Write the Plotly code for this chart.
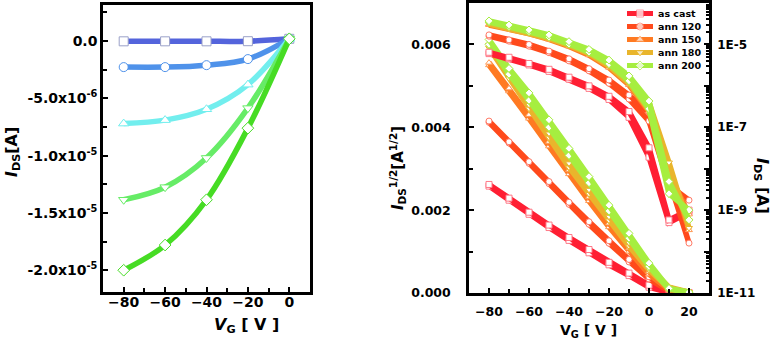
import plotly.graph_objects as go

# ---- left panel: output-type curves ----
VG_OUT = [-80, -60, -40, -20, 0]
I_SQUARE = [-2e-8, -2e-8, -2e-8, -1e-8, 2e-7]
I_CIRCLE = [-2.27e-6, -2.27e-6, -2.10e-6, -1.57e-6, 2e-7]
I_TRI_UP = [-7.20e-6, -6.90e-6, -5.95e-6, -3.80e-6, 2e-7]
I_TRI_DOWN = [-1.385e-5, -1.275e-5, -1.02e-5, -5.85e-6, 2e-7]
I_DIAMOND = [-2.0e-5, -1.78e-5, -1.385e-5, -7.6e-6, 2e-7]
Y_TICKS_LEFT = [0, -5e-6, -1e-5, -1.5e-5, -2e-5]
Y_TEXT_LEFT = ["0.0", "-5.0x10<sup>-6</sup>", "-1.0x10<sup>-5</sup>",
               "-1.5x10<sup>-5</sup>", "-2.0x10<sup>-5</sup>"]

# ---- right panel: transfer curves (two sweep branches each) ----
VG = [-80, -70, -60, -50, -40, -30, -20, -10, 0, 10, 20]
NAMES = ["as cast", "ann 120", "ann 150", "ann 180", "ann 200"]

SQRT_A = [
    [0.00262, 0.00229, 0.00195, 0.00164, 0.00134, 0.00105, 0.00074, 0.00048, 0.00019, 0.00003, 0.00001],
    [0.00415, 0.00365, 0.00317, 0.00269, 0.00219, 0.00172, 0.00126, 0.00081, 0.00039, 0.00007, 0.00002],
    [0.00556, 0.00494, 0.00430, 0.00365, 0.00297, 0.00232, 0.00168, 0.00108, 0.00051, 0.00011, 0.00002],
    [0.00599, 0.00526, 0.00454, 0.00385, 0.00313, 0.00249, 0.00184, 0.00121, 0.00063, 0.00014, 0.00002],
    [0.00612, 0.00542, 0.00483, 0.00418, 0.00349, 0.00281, 0.00212, 0.00144, 0.00072, 0.00011, 0.00002],
]
SQRT_B = [
    [0.00258, 0.00224, 0.00190, 0.00158, 0.00127, 0.00097, 0.00068, 0.00042, 0.00014, 0.00001, 0.00001],
    [0.00412, 0.00362, 0.00313, 0.00264, 0.00214, 0.00166, 0.00120, 0.00075, 0.00034, 0.00005, 0.00002],
    [0.00550, 0.00487, 0.00421, 0.00354, 0.00287, 0.00222, 0.00159, 0.00100, 0.00045, 0.00008, 0.00002],
    [0.00592, 0.00518, 0.00445, 0.00375, 0.00303, 0.00239, 0.00175, 0.00113, 0.00056, 0.00011, 0.00002],
    [0.00600, 0.00528, 0.00465, 0.00400, 0.00332, 0.00266, 0.00198, 0.00132, 0.00064, 0.00009, 0.00002],
]
ID_A = [
    [6.46e-6, 4.90e-6, 3.47e-6, 2.51e-6, 1.62e-6, 1.0e-6, 5.6e-7, 2.4e-7, 3.2e-8, 5.8e-10, 1.0e-9],
    [1.70e-5, 1.29e-5, 1.0e-5, 6.9e-6, 4.5e-6, 2.6e-6, 1.38e-6, 6.0e-7, 2.24e-7, 5.4e-9, 1.6e-10],
    [3.09e-5, 2.45e-5, 1.95e-5, 1.41e-5, 9.8e-6, 6.2e-6, 3.16e-6, 1.26e-6, 3.16e-7, 1.12e-8, 3.3e-10],
    [3.24e-5, 2.57e-5, 2.04e-5, 1.51e-5, 1.05e-5, 6.8e-6, 3.55e-6, 1.45e-6, 4.0e-7, 1.41e-8, 3.7e-10],
    [3.70e-5, 2.95e-5, 2.24e-5, 1.70e-5, 1.17e-5, 7.6e-6, 4.2e-6, 1.74e-6, 4.3e-7, 4.9e-9, 5.8e-10],
]
ID_B = [
    [6.0e-6, 4.5e-6, 3.2e-6, 2.24e-6, 1.45e-6, 8.7e-7, 4.7e-7, 1.74e-7, 1.9e-8, 5.0e-10, 8.9e-10],
    [1.58e-5, 1.20e-5, 9.1e-6, 6.3e-6, 4.0e-6, 2.3e-6, 1.15e-6, 4.8e-7, 1.41e-7, 4.0e-9, 1.74e-9],
    [2.95e-5, 2.34e-5, 1.82e-5, 1.32e-5, 8.9e-6, 5.5e-6, 2.75e-6, 1.05e-6, 2.4e-7, 7.9e-9, 7.9e-10],
    [3.09e-5, 2.40e-5, 1.91e-5, 1.38e-5, 9.5e-6, 6.0e-6, 3.0e-6, 1.15e-6, 2.6e-7, 8.9e-9, 5.6e-10],
    [3.47e-5, 2.69e-5, 2.04e-5, 1.51e-5, 1.02e-5, 6.5e-6, 3.4e-6, 1.32e-6, 2.8e-7, 2.5e-9, 1.0e-9],
]
LOG_TICKS = [1e-11, 1e-10, 1e-9, 1e-8, 1e-7, 1e-6, 1e-5, 1e-4]
LOG_TEXT = ["1E-11", " ", "1E-9", " ", "1E-7", " ", "1E-5", " "]

# styles
OUT_COLORS = ["#5464dc", "#4f92ea", "#72eeee", "#66ec66", "#46dc24"]
OUT_EDGE = ["#9aa0c8", "#4f92ea", "#72eeee", "#66ec66", "#46dc24"]
OUT_SYMBOLS = ["square", "circle", "triangle-up", "triangle-down", "diamond"]
TR_COLORS = ["#ff1f33", "#ff4a1c", "#ff7a22", "#e9b52c", "#a6ee40"]
TR_EDGE = ["#ff7a88", "#ff7a66", "#ff9a55", "#e9b52c", "#a6ee40"]
TR_SYMBOLS = ["square", "circle", "triangle-up", "triangle-down", "diamond"]

FONT = "DejaVu Sans"
W, H = 772, 343


def px_x(p):
    return p / W


def px_y(p):
    return 1 - p / H


fig = go.Figure()

# left panel traces
for ys, col, edge, sym in zip([I_SQUARE, I_CIRCLE, I_TRI_UP, I_TRI_DOWN, I_DIAMOND],
                              OUT_COLORS, OUT_EDGE, OUT_SYMBOLS):
    fig.add_trace(go.Scatter(
        x=VG_OUT, y=ys, mode="lines+markers", line=dict(color=col, width=5.5, shape="spline"),
        marker=dict(symbol=sym, size=9, color="white", line=dict(color=edge, width=1)),
        xaxis="x", yaxis="y", showlegend=False,
    ))

# right panel traces
for i in range(len(NAMES)):
    mk = dict(symbol=TR_SYMBOLS[i], size=6, color="white", line=dict(color=TR_EDGE[i], width=1))
    for ys, ax in [(SQRT_B[i], "y2"), (SQRT_A[i], "y2"), (ID_B[i], "y3"), (ID_A[i], "y3")]:
        fig.add_trace(go.Scatter(
            x=VG, y=ys, mode="lines+markers", line=dict(color=TR_COLORS[i], width=5.5),
            marker=mk, xaxis="x2", yaxis=ax, showlegend=False,
        ))

# custom compact legend
for i, name in enumerate(NAMES):
    fig.add_trace(go.Scatter(
        x=[0, 0.5, 1], y=[i + 1] * 3, mode="lines+markers",
        line=dict(color=TR_COLORS[i], width=5),
        marker=dict(symbol=TR_SYMBOLS[i], size=[0, 7, 0], color="white",
                    line=dict(color=TR_EDGE[i], width=1)),
        xaxis="x3", yaxis="y4", showlegend=False, hoverinfo="skip",
    ))
    fig.add_annotation(x=px_x(656), y=px_y(13.5 + 13 * i), xref="paper", yref="paper",
                       text=name, showarrow=False, xanchor="left", yanchor="middle",
                       font=dict(family=FONT, size=9.5, color="black", weight="bold"))

axis_common = dict(showline=True, linecolor="black", showgrid=False, zeroline=False,
                   ticks="inside", tickcolor="black", tickwidth=2, ticklen=5, automargin=False)

fig.update_layout(
    template="simple_white",
    width=W, height=H, margin=dict(l=0, r=0, t=0, b=0, autoexpand=False),
    paper_bgcolor="white", plot_bgcolor="white", showlegend=False,
    font=dict(family=FONT, color="black"),
    xaxis=dict(**axis_common, linewidth=2.5, mirror=True, domain=[px_x(103), px_x(310)],
               range=[-90, 10], tickvals=[-80, -60, -40, -20, 0], anchor="y",
               minor=dict(ticks="inside", dtick=10, tick0=0, ticklen=4, tickwidth=2, tickcolor="black"),
               tickfont=dict(size=14, weight="bold"), ticklabelstandoff=-5),
    yaxis=dict(**axis_common, linewidth=2.5, mirror=True, domain=[px_y(292), px_y(5)],
               range=[-2.19e-5, 3.15e-6], tickvals=Y_TICKS_LEFT, ticktext=Y_TEXT_LEFT, anchor="x",
               minor=dict(ticks="inside", dtick=2.5e-6, tick0=0, ticklen=4, tickwidth=2, tickcolor="black"),
               tickfont=dict(size=14, weight="bold"), ticklabelstandoff=0),
    xaxis2=dict(**axis_common, linewidth=2.5, mirror=True, domain=[px_x(469), px_x(709)],
                range=[-90, 30], tickvals=[-80, -60, -40, -20, 0, 20], anchor="y2",
                minor=dict(ticks="inside", dtick=10, tick0=0, ticklen=4, tickwidth=2, tickcolor="black"),
                tickfont=dict(size=12.5, weight="bold"), ticklabelstandoff=5),
    yaxis2=dict(**axis_common, linewidth=2.5, domain=[px_y(293), px_y(3)],
                range=[0, 0.007], tickvals=[0, 0.002, 0.004, 0.006],
                ticktext=["0.000", "0.002", "0.004", "0.006"], anchor="x2",
                minor=dict(ticks="inside", dtick=0.001, tick0=0, ticklen=4, tickwidth=2, tickcolor="black"),
                tickfont=dict(size=12.5, weight="bold"), ticklabelstandoff=13),
    yaxis3=dict(**axis_common, linewidth=2.5, type="log", overlaying="y2", side="right",
                anchor="x2", range=[-11, -4], tickvals=LOG_TICKS, ticktext=LOG_TEXT,
                minor=dict(ticks="inside", dtick="D1", ticklen=3, tickwidth=1.5, tickcolor="black"),
                tickfont=dict(size=12, weight="bold"), ticklabelstandoff=3),
    xaxis3=dict(domain=[px_x(627), px_x(653)], range=[0, 1], visible=False, anchor="y4"),
    yaxis4=dict(domain=[px_y(72), px_y(7)], range=[5.5, 0.5], visible=False, anchor="x3"),
)

title_font = dict(family=FONT, color="black", weight="bold")
titles = [
    (12, 152, -90, "<i>I</i><sub>DS</sub>[A]", 16),
    (246, 325, 0, "<i>V</i><sub>G</sub> [ V ]", 16),
    (397, 168, -90, "<i>I</i><sub>DS</sub><sup>1/2</sup>[A<sup>1/2</sup>]", 15),
    (762, 186, 90, "<i>I</i><sub>DS</sub> [A]", 16),
    (588, 331, 0, "V<sub>G</sub> [ V ]", 14),
]
for x, y, ang, txt, size in titles:
    fig.add_annotation(x=px_x(x), y=px_y(y), xref="paper", yref="paper", textangle=ang,
                       xanchor="center", yanchor="middle", text=txt, showarrow=False,
                       font=dict(**title_font, size=size))

fig.write_html("out.html", config={"displayModeBar": False},
               post_script="document.body.style.margin='0';")
